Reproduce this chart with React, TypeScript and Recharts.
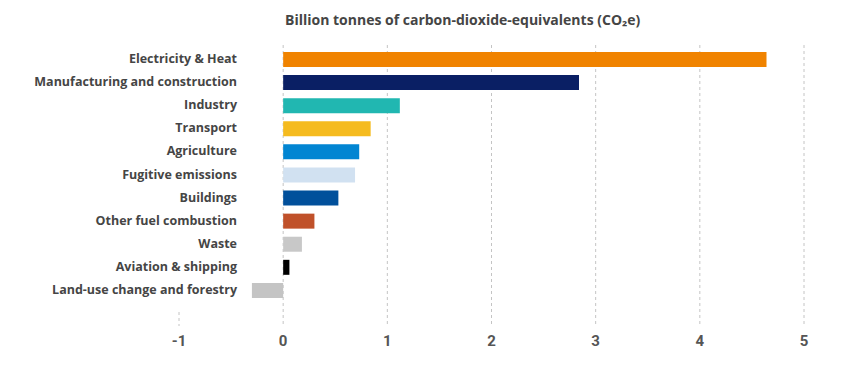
import { Bar, BarChart, CartesianGrid, Cell, XAxis, YAxis } from "recharts"

const categories = [
  "Electricity & Heat",
  "Manufacturing and construction",
  "Industry",
  "Transport",
  "Agriculture",
  "Fugitive emissions",
  "Buildings",
  "Other fuel combustion",
  "Waste",
  "Aviation & shipping",
  "Land-use change and forestry",
]

const values = [4.64, 2.84, 1.12, 0.84, 0.73, 0.69, 0.53, 0.3, 0.18, 0.06, -0.3]

const xTicks = [-1, 0, 1, 2, 3, 4, 5]

const colors = [
  "#f08300",
  "#0a1f64",
  "#21b7b1",
  "#f5bb1f",
  "#0185d2",
  "#d1e1f1",
  "#01509b",
  "#c0512a",
  "#c8c8c8",
  "#000000",
  "#c4c4c4",
]

const data = categories.map((name, i) => ({ name, value: values[i] }))

const FONT = "'Open Sans', sans-serif"

function YTick({ y, payload }: any) {
  return (
    <text
      x={237}
      y={y}
      dy={-1}
      textAnchor="end"
      dominantBaseline="central"
      fontFamily={FONT}
      fontSize={12.5}
      fontWeight={700}
      fill="#454545"
    >
      {payload.value}
    </text>
  )
}

function XTick({ x, y, payload }: any) {
  return (
    <g>
      {payload.value === xTicks[0] && (
        <line x1={x} x2={x} y1={y - 14} y2={y} stroke="#c4c4c4" strokeDasharray="3 3" />
      )}
      <text
        x={x}
        y={y + 15}
        textAnchor="middle"
        dominantBaseline="central"
        fontFamily="Roboto, sans-serif"
        fontSize={15}
        fontWeight={700}
        fill="#555"
      >
        {payload.value}
      </text>
    </g>
  )
}

export default function App() {
  return (
    <div style={{ position: "absolute", left: 0, top: 0, width: 849, height: 381, background: "#fff" }}>
      <div
        style={{
          position: "absolute",
          left: 285,
          top: 10,
          fontFamily: FONT,
          fontSize: 14,
          fontWeight: 700,
          color: "#454545",
          whiteSpace: "nowrap",
        }}
      >
        Billion tonnes of carbon-dioxide-equivalents (CO₂e)
      </div>
      <BarChart
        width={849}
        height={381}
        data={data}
        layout="vertical"
        margin={{ top: 45, right: 45, bottom: 25, left: 0 }}
      >
        <CartesianGrid
          horizontal={false}
          stroke="#c4c4c4"
          strokeDasharray="3 3"
          verticalValues={xTicks.slice(1)}
        />
        <XAxis
          type="number"
          domain={[-1, 5]}
          ticks={xTicks}
          axisLine={false}
          tickLine={false}
          tickSize={0}
          tickMargin={0}
          height={30}
          tick={<XTick />}
        />
        <YAxis
          type="category"
          dataKey="name"
          width={179}
          axisLine={false}
          tickLine={false}
          interval={0}
          padding={{ top: 3, bottom: 24 }}
          tick={<YTick />}
        />
        <Bar dataKey="value" barSize={15} isAnimationActive={false}>
          {data.map((d, i) => (
            <Cell key={d.name} fill={colors[i]} />
          ))}
        </Bar>
      </BarChart>
    </div>
  )
}
